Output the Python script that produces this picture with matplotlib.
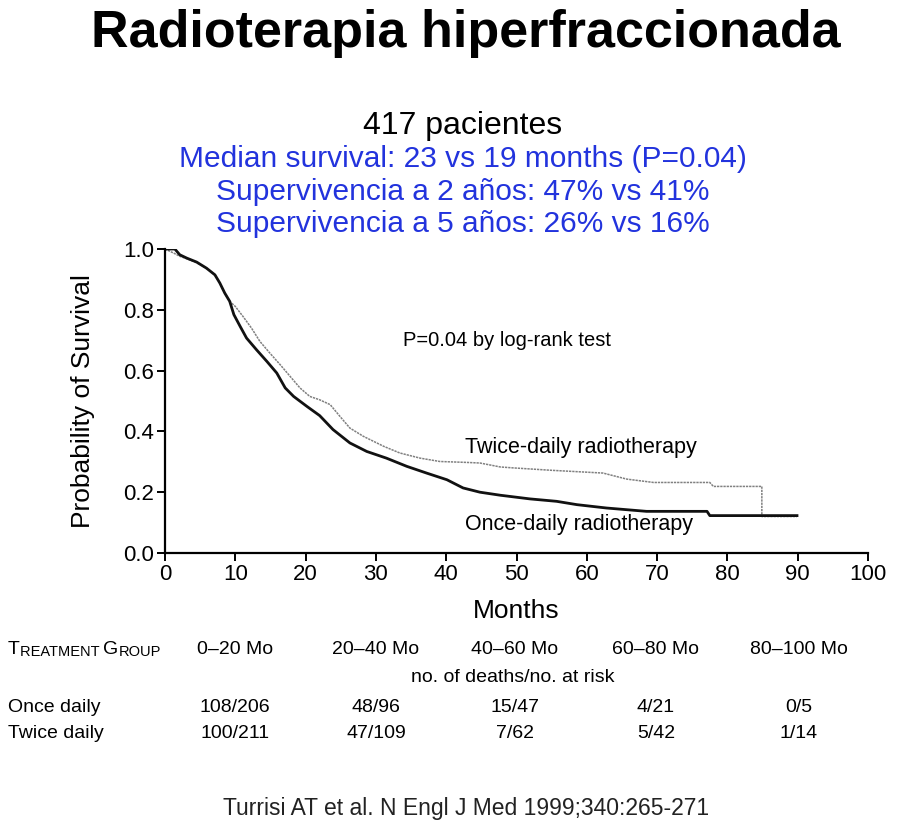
import matplotlib
matplotlib.use("Agg")
import matplotlib.pyplot as plt

plt.rcParams['font.family'] = ['Liberation Sans', 'DejaVu Sans']

# ---- data ----
once_t = [0, 1.4, 2.1, 3.1, 4.5, 5.9, 7.1, 7.8, 8.5, 9.2,
          9.8, 10.7, 11.6, 13.0, 14.5, 15.9, 17.1, 18.3, 20.2, 22.0,
          23.9, 26.3, 28.7, 31.5, 34.4, 37.2, 40.1, 42.4, 44.8, 47.7,
          51.9, 55.7, 58.6, 62.8, 68.5, 77.1, 77.5, 89.9]
once_s = [1.0, 1.0, 0.981, 0.970, 0.957, 0.937, 0.915, 0.888, 0.855, 0.828,
          0.784, 0.745, 0.707, 0.669, 0.630, 0.592, 0.543, 0.515, 0.482, 0.452,
          0.406, 0.362, 0.334, 0.312, 0.285, 0.263, 0.241, 0.214, 0.200, 0.190,
          0.178, 0.170, 0.159, 0.148, 0.137, 0.137, 0.123, 0.123]

twice_t = [0, 1.2, 2.1, 3.1, 4.5, 5.9, 7.1, 7.8, 8.5, 9.2,
           10.0, 11.1, 12.3, 13.5, 14.9, 16.4, 17.8, 19.2, 20.6, 22.0,
           23.5, 24.9, 26.3, 28.2, 31.1, 33.4, 36.3, 39.1, 42.9, 44.8,
           47.7, 49.5, 55.0, 62.3, 65.7, 69.5, 77.5, 78.0, 84.9, 84.9, 89.9]
twice_s = [1.0, 0.987, 0.976, 0.968, 0.955, 0.937, 0.915, 0.888, 0.855, 0.828,
           0.811, 0.778, 0.740, 0.696, 0.658, 0.619, 0.581, 0.543, 0.515, 0.504,
           0.488, 0.449, 0.411, 0.384, 0.351, 0.329, 0.312, 0.301, 0.298, 0.296,
           0.283, 0.280, 0.272, 0.263, 0.243, 0.232, 0.232, 0.219, 0.219, 0.120, 0.120]

x_ticks = [0, 10, 20, 30, 40, 50, 60, 70, 80, 90, 100]
y_ticks = [0.0, 0.2, 0.4, 0.6, 0.8, 1.0]

periods = ["0\u201320 Mo", "20\u201340 Mo", "40\u201360 Mo", "60\u201380 Mo", "80\u2013100 Mo"]
once_counts = ["108/206", "48/96", "15/47", "4/21", "0/5"]
twice_counts = ["100/211", "47/109", "7/62", "5/42", "1/14"]

title = "Radioterapia hiperfraccionada"
subtitle = "417 pacientes"
blue_lines = ["Median survival: 23 vs 19 months (P=0.04)",
              "Supervivencia a 2 años: 47% vs 41%",
              "Supervivencia a 5 años: 26% vs 16%"]
citation = "Turrisi AT et al. N Engl J Med 1999;340:265-271"

# ---- figure ----
W, H = 900, 826
fig = plt.figure(figsize=(W / 100, H / 100), dpi=100)

def fx(px):
    return px / W

def fy(py):
    return 1 - py / H

ax = fig.add_axes([fx(165), fy(553), (868 - 165) / W, (553 - 249) / H])
ax.plot(twice_t, twice_s, color='#808080', lw=1.1, ls=(0, (1.5, 0.6)))
ax.plot(once_t, once_s, color='#111111', lw=2.0)

ax.set_xlim(0, 100)
ax.set_ylim(0, 1.0)
ax.set_xticks(x_ticks)
ax.set_yticks(y_ticks)
ax.set_yticklabels([f"{v:.1f}" for v in y_ticks])
for s in ['top', 'right']:
    ax.spines[s].set_visible(False)
for s in ['left', 'bottom']:
    ax.spines[s].set_linewidth(1.6)
ax.tick_params(axis='both', direction='out', length=6, width=1.4, labelsize=16, pad=2)
ax.set_xlabel("Months", fontsize=19, labelpad=10)
ax.set_ylabel("Probability of Survival", fontsize=19, labelpad=20)

ax.text(33.9, 0.699, "P=0.04 by log-rank test", fontsize=14.5, va='center', ha='left')
ax.text(42.7, 0.347, "Twice-daily radiotherapy", fontsize=15.5, va='center', ha='left')
ax.text(42.7, 0.093, "Once-daily radiotherapy", fontsize=15.5, va='center', ha='left')

# ---- header texts ----
fig.text(fx(466), fy(33), title, fontsize=37.5, fontweight='bold', ha='center', va='center')
fig.text(fx(463), fy(126), subtitle, fontsize=23, ha='center', va='center')
blue = '#2233dd'
for i, line in enumerate(blue_lines):
    fig.text(fx(463), fy(159 + 32.5 * i), line, fontsize=21.5, color=blue,
             ha='center', va='center')

# ---- risk table ----
tfam = ['Liberation Sans Narrow', 'Liberation Sans', 'DejaVu Sans']
col_x = [235, 376, 515, 656, 799]
tsz = 14
t1 = fig.text(fx(8), fy(650), "T", fontsize=tsz, family=tfam, ha='left', va='center')
t2 = ax.annotate("REATMENT ", xy=(1, 0), xycoords=t1, fontsize=tsz * 0.75, family=tfam,
                 ha='left', va='bottom', annotation_clip=False)
t3 = ax.annotate("G", xy=(1, 0), xycoords=t2, fontsize=tsz, family=tfam,
                 ha='left', va='bottom', annotation_clip=False)
ax.annotate("ROUP", xy=(1, 0), xycoords=t3, fontsize=tsz * 0.75, family=tfam,
            ha='left', va='bottom', annotation_clip=False)
for x, p in zip(col_x, periods):
    fig.text(fx(x), fy(650), p, fontsize=tsz, family=tfam, ha='center', va='center')
fig.text(fx(513), fy(677), "no. of deaths/no. at risk", fontsize=tsz, family=tfam,
         ha='center', va='center')
fig.text(fx(8), fy(708), "Once daily", fontsize=tsz, family=tfam, ha='left', va='center')
fig.text(fx(8), fy(734), "Twice daily", fontsize=tsz, family=tfam, ha='left', va='center')
for x, a, b in zip(col_x, once_counts, twice_counts):
    fig.text(fx(x), fy(708), a, fontsize=tsz, family=tfam, ha='center', va='center')
    fig.text(fx(x), fy(734), b, fontsize=tsz, family=tfam, ha='center', va='center')

fig.text(fx(466), fy(808), citation, fontsize=16.5, color='#222222', ha='center', va='center')

fig.savefig("out.png", dpi=100)
